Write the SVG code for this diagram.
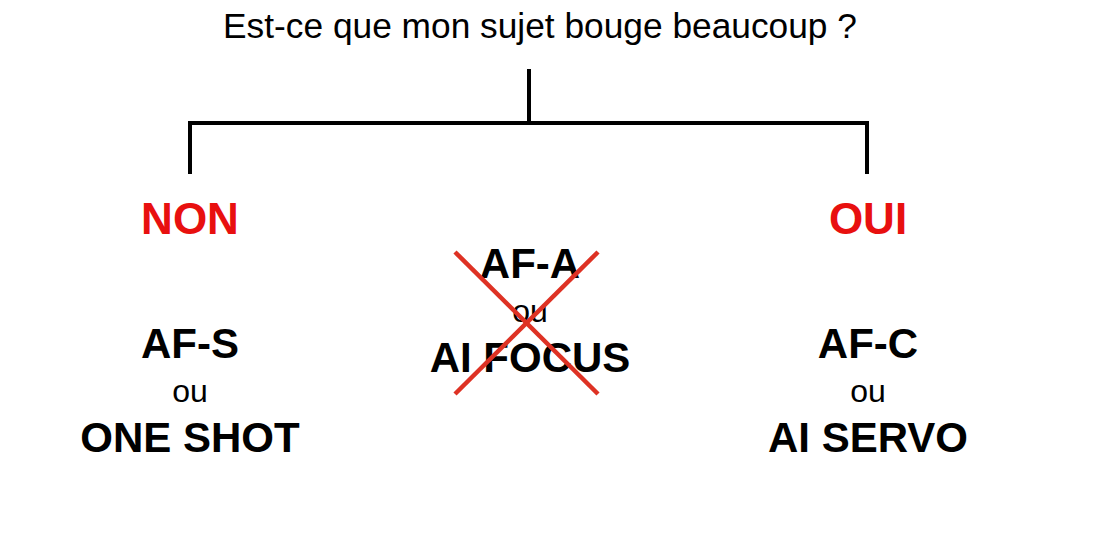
<svg xmlns="http://www.w3.org/2000/svg" width="1115" height="538" viewBox="0 0 1115 538">
<style>
text{font-family:"Liberation Sans",Arial,sans-serif;text-anchor:middle}
.t{font-size:35.3px;fill:#000}
.h{font-size:44px;font-weight:bold;fill:#e8100f}
.b{font-size:42px;font-weight:bold;fill:#000}
.o{font-size:32px;fill:#000}
.c{stroke:#000;stroke-width:4;fill:none;stroke-linecap:square}
.x{stroke:#de3224;stroke-width:4.5;stroke-linecap:butt}
</style>
<rect width="1115" height="538" fill="#fff"/>
<g id="question"><text class="t" x="540" y="38">Est-ce que mon sujet bouge beaucoup ?</text></g>
<g id="connectors">
<path class="c" d="M529,71 V123 M190,123 H867 M190,123 V172 M867,123 V172"/>
</g>
<g id="non">
<text class="h" x="190" y="234">NON</text>
<text class="b" x="190" y="358">AF-S</text>
<text class="o" x="190" y="402">ou</text>
<text class="b" x="190" y="452">ONE SHOT</text>
</g>
<g id="middle">
<text class="b" x="530" y="278">AF-A</text>
<text class="o" x="530" y="322">ou</text>
<text class="b" x="530" y="372">AI FOCUS</text>
<line class="x" x1="455" y1="252" x2="598" y2="394"/>
<line class="x" x1="598" y1="252" x2="455" y2="394"/>
</g>
<g id="oui">
<text class="h" x="868" y="234">OUI</text>
<text class="b" x="868" y="358">AF-C</text>
<text class="o" x="868" y="402">ou</text>
<text class="b" x="868" y="452">AI SERVO</text>
</g>
</svg>
